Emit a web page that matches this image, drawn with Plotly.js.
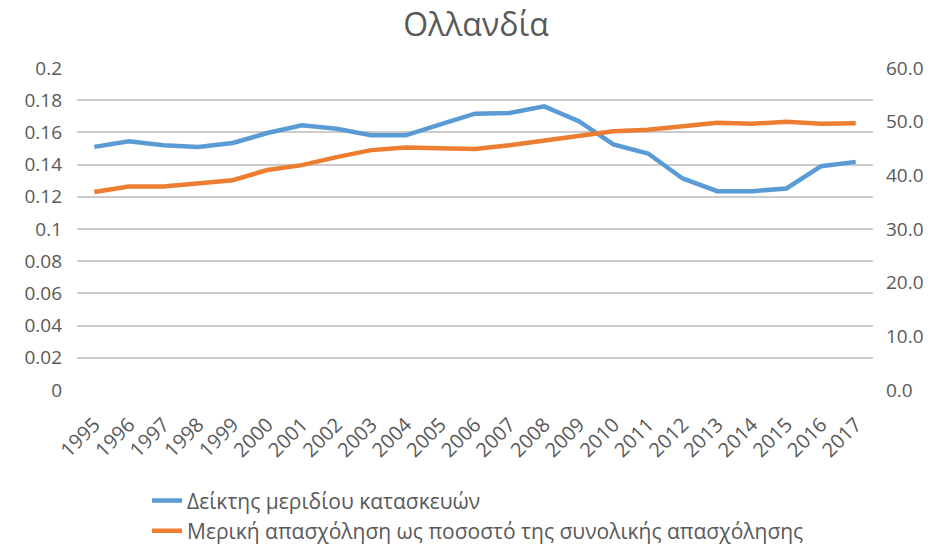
<!DOCTYPE html>
<html>
<head>
<meta charset="utf-8">
<script src="https://cdn.plot.ly/plotly-3.0.1.min.js"></script>
<style>html,body{margin:0;padding:0;background:#fff;}#chart{width:952px;height:552px;}</style>
</head>
<body>
<div id="chart"></div>
<script>
const years = ["1995","1996","1997","1998","1999","2000","2001","2002","2003","2004","2005","2006","2007","2008","2009","2010","2011","2012","2013","2014","2015","2016","2017"];
const constructionShare = [0.151,0.1545,0.152,0.151,0.1534,0.1596,0.1644,0.1623,0.1582,0.1582,0.165,0.1716,0.172,0.1762,0.167,0.1526,0.1469,0.1314,0.1235,0.1235,0.1252,0.139,0.1417];
const partTimeShare = [36.9,37.9,37.9,38.6,39.1,41.0,41.9,43.4,44.7,45.2,45.0,44.9,45.6,46.4,47.3,48.2,48.5,49.1,49.8,49.6,50.0,49.6,49.7];
const leftTicks = [0,0.02,0.04,0.06,0.08,0.1,0.12,0.14,0.16,0.18,0.2];
const leftTickText = ["0","0.02","0.04","0.06","0.08","0.1","0.12","0.14","0.16","0.18","0.2"];
const rightTicks = [0,10,20,30,40,50,60];
const rightTickText = ["0.0","10.0","20.0","30.0","40.0","50.0","60.0"];

const font = "Open Sans, Noto Sans, sans-serif";
const grey = "#595959";

const traces = [
  {x: years, y: constructionShare, name: "Δείκτης μεριδίου κατασκευών", type: "scatter", mode: "lines",
   line: {color: "#5B9BD5", width: 4.5}, yaxis: "y", legendgroup: "a"},
  {x: years, y: partTimeShare, name: "Μερική απασχόληση ως ποσοστό της συνολικής απασχόλησης", type: "scatter", mode: "lines",
   line: {color: "#ED7D31", width: 4.5}, yaxis: "y2", legendgroup: "b"}
];

const layout = {
  width: 952, height: 552,
  margin: {l: 77, r: 79, t: 67.5, b: 161.5},
  paper_bgcolor: "#fff", plot_bgcolor: "#fff",
  title: {text: "Ολλανδία", x: 0.5, xanchor: "center", yref: "container", y: 0.955, yanchor: "middle",
          font: {family: font, size: 32, color: grey}},
  font: {family: font, color: grey, size: 19},
  showlegend: true,
  legend: {orientation: "v", x: 0.088, xanchor: "left", xref: "paper", yref: "container", y: 0.13, yanchor: "top",
           font: {family: font, size: 21, color: grey}, itemwidth: 30, tracegroupgap: 0},
  xaxis: {type: "category", range: [-0.5, 22.5], tickangle: -45, showgrid: false, zeroline: false, showline: false,
          automargin: false, ticks: "", ticklabelstandoff: 18, tickfont: {family: font, size: 20, color: grey}, fixedrange: true},
  yaxis: {range: [0, 0.2], tickvals: leftTicks, ticktext: leftTickText, showgrid: true, automargin: false,
          gridcolor: "#cccccc", gridwidth: 2, zeroline: false, showline: false, ticks: "",
          ticklabelstandoff: 14, tickfont: {family: font, size: 19, color: grey}},
  yaxis2: {range: [0, 60], tickvals: rightTicks, ticktext: rightTickText, overlaying: "y", side: "right", automargin: false,
           showgrid: false, zeroline: false, showline: false, ticks: "", ticklabelstandoff: 12,
           tickfont: {family: font, size: 19, color: grey}}
};

Plotly.newPlot("chart", traces, layout, {displayModeBar: false, staticPlot: true});
</script>
</body>
</html>
